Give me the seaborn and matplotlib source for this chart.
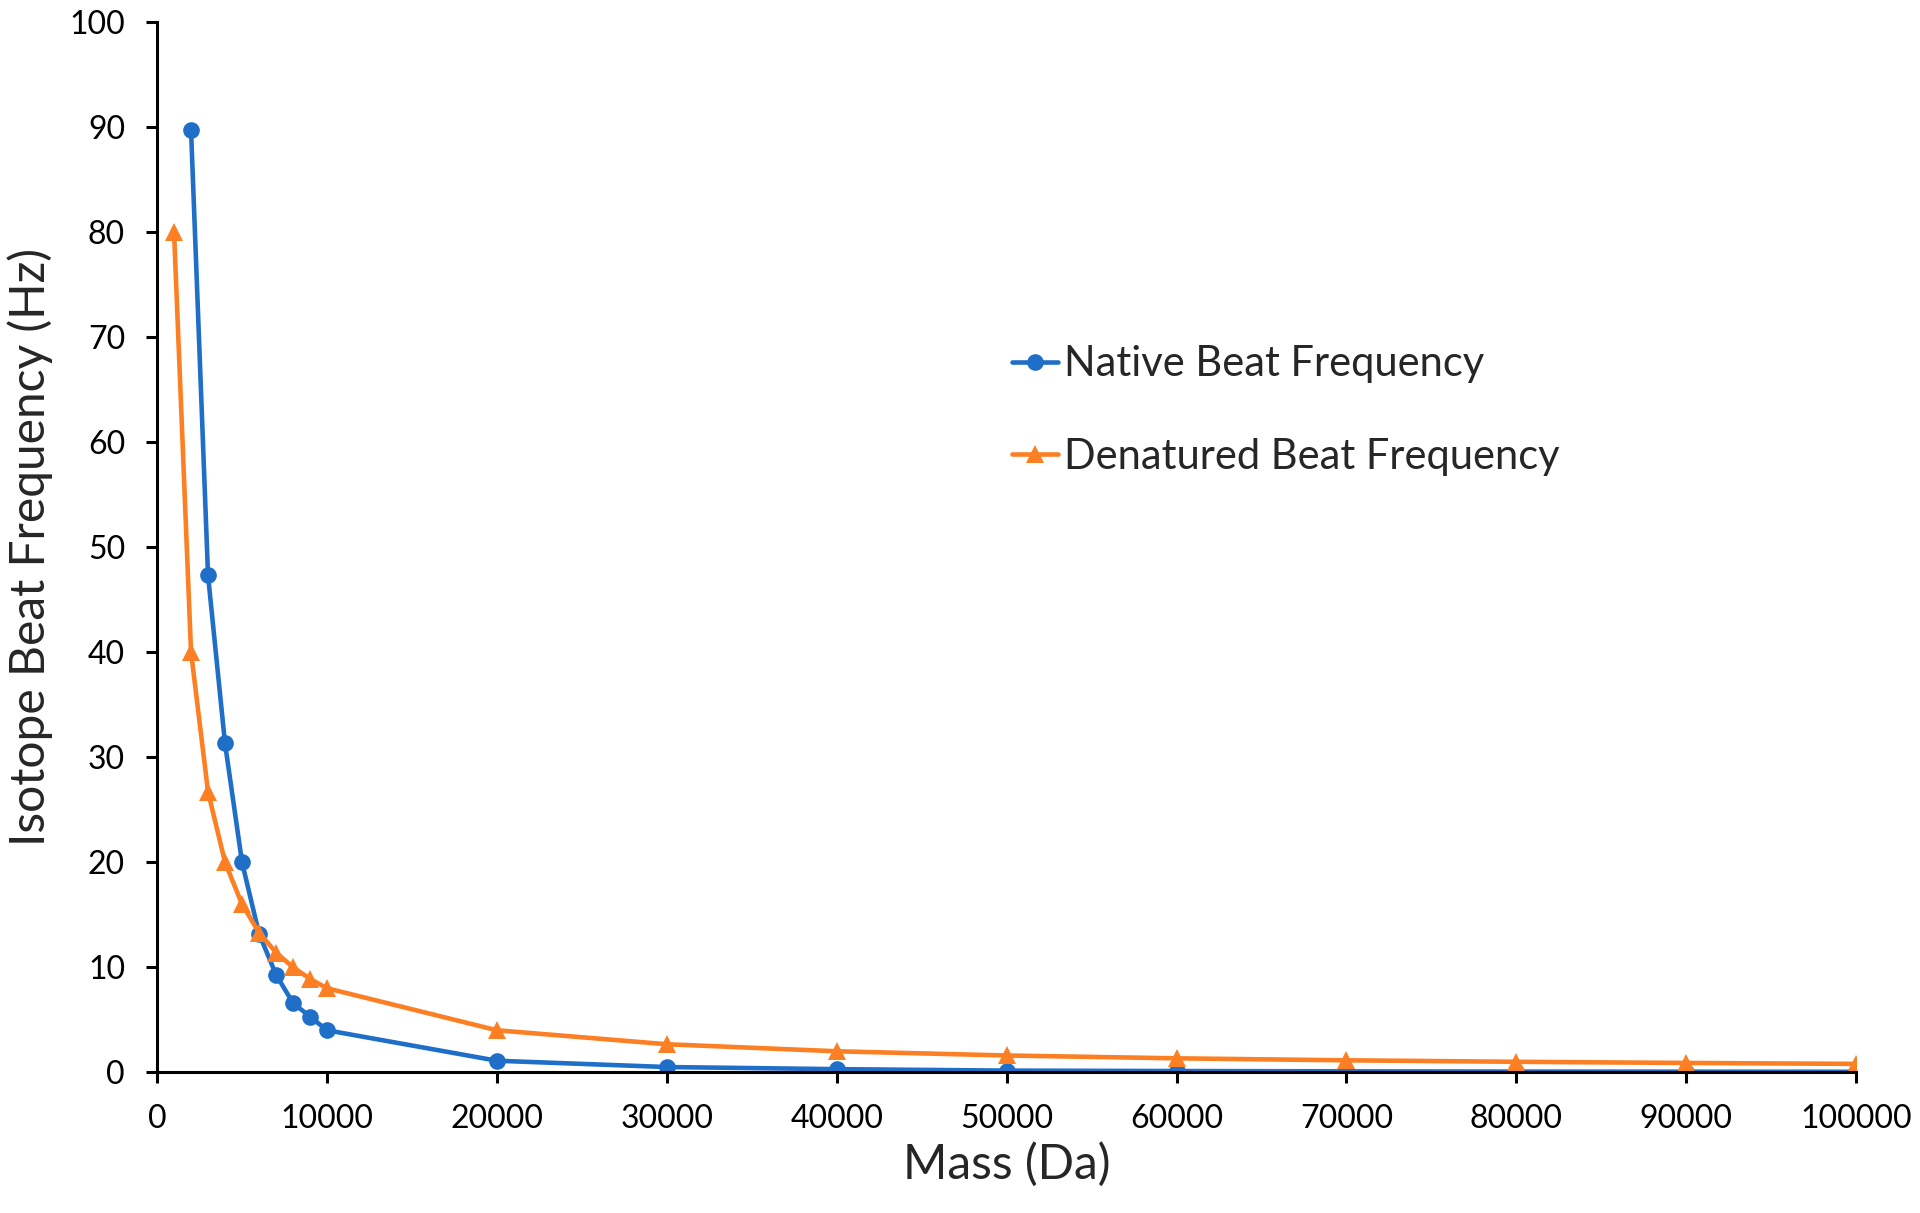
"""
Isotope beat frequency vs. mass - native and denatured
"""

import matplotlib
matplotlib.use('Agg')
import matplotlib.pyplot as plt
import seaborn as sns

# data
native_mass = [2000, 3000, 4000, 5000, 6000, 7000, 8000, 9000, 10000,
               20000, 30000, 40000, 50000, 60000, 70000, 80000, 90000, 100000]
native_freq = [89.7, 47.3, 31.3, 20.0, 13.2, 9.3, 6.6, 5.3, 4.0,
               1.1, 0.5, 0.3, 0.16, 0.12, 0.09, 0.07, 0.06, 0.05]

denat_mass = [1000, 2000, 3000, 4000, 5000, 6000, 7000, 8000, 9000, 10000,
              20000, 30000, 40000, 50000, 60000, 70000, 80000, 90000, 100000]
denat_freq = [80.0, 40.0, 26.7, 20.0, 16.0, 13.3, 11.4, 10.0, 8.9, 8.0,
              4.0, 2.67, 2.0, 1.6, 1.33, 1.14, 1.0, 0.89, 0.8]

x_ticks = list(range(0, 100001, 10000))
y_ticks = list(range(0, 101, 10))

BLUE = '#1f6fc8'
ORANGE = '#fd7f23'

sns.set_style('white')
plt.rcParams['font.family'] = ['Lato', 'DejaVu Sans']

fig = plt.figure(figsize=(19.2, 12.13), dpi=100)
ax = fig.add_axes([0.0818, 0.116, 0.885, 0.866])

sns.lineplot(x=native_mass, y=native_freq, ax=ax, color=BLUE, linewidth=3.3,
             marker='o', markersize=12, markeredgewidth=0,
             label='Native Beat Frequency', sort=False)
sns.lineplot(x=denat_mass, y=denat_freq, ax=ax, color=ORANGE, linewidth=3.3,
             marker='^', markersize=13, markeredgewidth=0,
             label='Denatured Beat Frequency', sort=False)

ax.set_xlim(0, 100000)
ax.set_ylim(0, 100)
ax.set_xticks(x_ticks)
ax.set_yticks(y_ticks)
ax.set_xticklabels([str(t) for t in x_ticks])
ax.set_yticklabels([str(t) for t in y_ticks])
ax.tick_params(axis='both', direction='out', length=8, width=2.2,
               labelsize=23, pad=15, color='black', labelcolor='black')
ax.tick_params(axis='x', bottom=True)
ax.tick_params(axis='y', left=True)

for side in ['top', 'right']:
    ax.spines[side].set_visible(False)
for side in ['left', 'bottom']:
    ax.spines[side].set_color('black')
    ax.spines[side].set_linewidth(2.2)

ax.set_xlabel('Mass (Da)', fontsize=34.5, labelpad=6)
ax.set_ylabel('Isotope Beat Frequency (Hz)', fontsize=34.5, labelpad=12)

ax.legend(loc='center left', bbox_to_anchor=(0.481, 0.630), frameon=False,
          fontsize=30, handlelength=1.1, handletextpad=0.15, labelspacing=1.3)

fig.savefig('out.png', dpi=100)
plt.close(fig)
